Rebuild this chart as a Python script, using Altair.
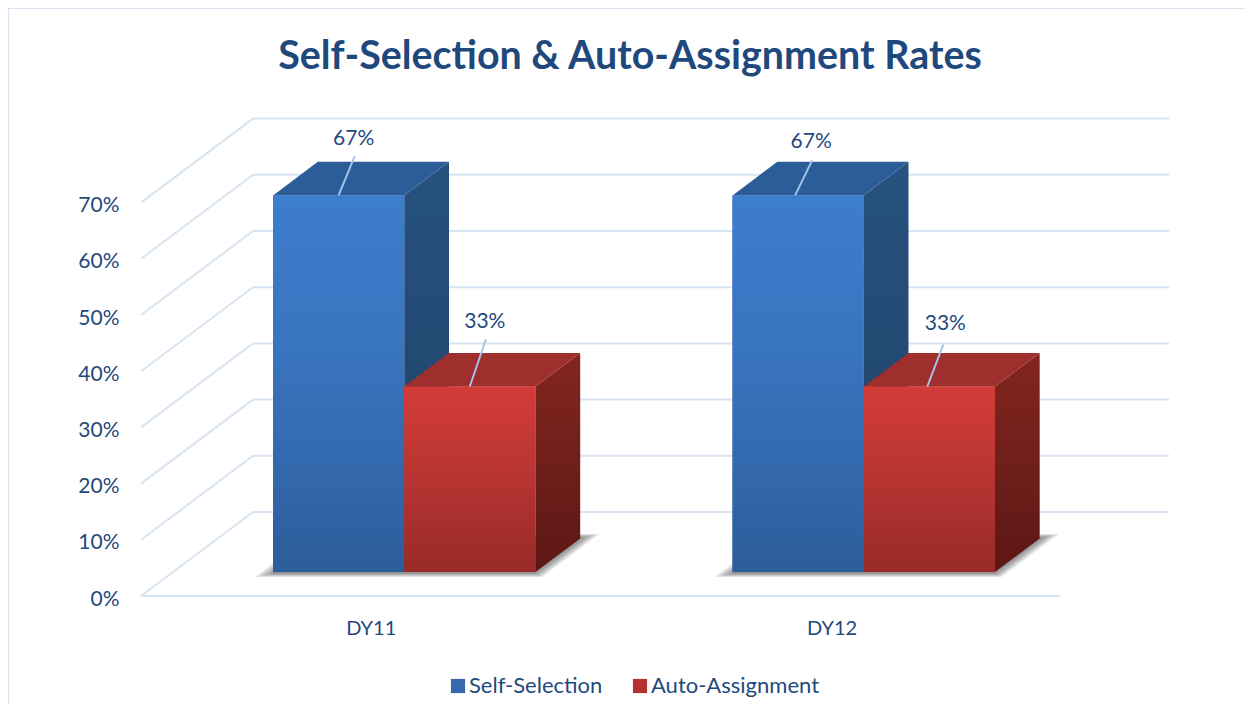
import altair as alt
import pandas as pd

# ---- values ----
categories = ["DY11", "DY12"]
series = ["Self-Selection", "Auto-Assignment"]
self_selection = [67, 67]
auto_assignment = [33, 33]
ticks = [0, 10, 20, 30, 40, 50, 60, 70]

# ---- oblique projection of the chart box, in axis units ----
UNIT_PX = 459.5      # pixels per category
PCT_PX = 5.62        # pixels per percentage point
DEPTH_X = 112 / UNIT_PX
DEPTH_Y = 84 / PCT_PX
Z0, Z1 = 0.286, 0.686
BAR_START = 0.2176
BAR_W = 0.2855
X_DOMAIN = [0, 1028 / UNIT_PX]
Y_DOMAIN = [0, 477 / PCT_PX]


def grad(*stops):
    return alt.LinearGradient(gradient="linear", x1=0, x2=0, y1=0, y2=1, stops=[
        alt.GradientStop(color=c, offset=o) for c, o in stops])


BLUE = grad(("#3d7dcd", 0), ("#3973bd", 0.45), ("#2c5d9b", 1))
RED = grad(("#d33c38", 0), ("#b73432", 0.5), ("#982a27", 1))
BLUE_SIDE = grad(("#27527f", 0), ("#1e4166", 1))
RED_SIDE = grad(("#83261f", 0), ("#5c1715", 1))
TOPS = {series[0]: "#2c5d99", series[1]: "#9f2f2c"}
FRONTS = {series[0]: BLUE, series[1]: RED}
SIDES = {series[0]: BLUE_SIDE, series[1]: RED_SIDE}

TEXT = "#1f497d"
GRID = "#d9e4f2"
LEADER = "#a3c3e8"
FONT = "Lato"

xs = alt.Scale(domain=X_DOMAIN, nice=False, zero=False)
ys = alt.Scale(domain=Y_DOMAIN, nice=False, zero=False)

X_AXIS = alt.Axis(values=[0.5, 1.503], title=None, domain=False, ticks=False, grid=False,
                  labelExpr="%s[floor(datum.value)]" % categories,
                  labelFont=FONT, labelFontSize=20, labelColor=TEXT, labelPadding=22)
Y_AXIS = alt.Axis(values=ticks, title=None, domain=False, ticks=False, grid=False,
                  labelExpr="datum.value + '%'", labelFont=FONT, labelFontSize=21,
                  labelColor=TEXT, labelPadding=22, labelOffset=3)


def X(f):
    return alt.X(f, type="quantitative", scale=xs, axis=X_AXIS)


def Y(f):
    return alt.Y(f, type="quantitative", scale=ys, axis=Y_AXIS)


# ---- tables ----
bars = []
values = {series[0]: self_selection, series[1]: auto_assignment}
for c_i, cat in enumerate(categories):
    for s_i, s in enumerate(series):
        left = c_i + BAR_START + s_i * BAR_W + Z0 * DEPTH_X
        bars.append(dict(cat=cat, series=s, value=values[s][c_i], left=left, c_i=c_i, s_i=s_i))
bars = pd.DataFrame(bars)
bars["right"] = bars["left"] + BAR_W
bars["top"] = bars["value"] + Z0 * DEPTH_Y
bars["base"] = Z0 * DEPTH_Y

# gridlines of the wall, side wall and floor
wall = pd.DataFrame({"v": ticks})
wall["x"] = DEPTH_X
wall["x2"] = 2 + DEPTH_X - 3 / UNIT_PX
wall["y"] = wall["v"] + DEPTH_Y
side = pd.DataFrame({"v": ticks})
side["x"] = 0.0
side["x2"] = DEPTH_X
side["y"] = side["v"]
side["y2"] = side["v"] + DEPTH_Y
floor = pd.DataFrame({"x": [0.0], "x2": [2.0], "y": [0.0]})

grid = [
    alt.Chart(wall).mark_rule(color=GRID, strokeWidth=2).encode(x=X("x"), x2="x2", y=Y("y")),
    alt.Chart(side).mark_rule(color=GRID, strokeWidth=2).encode(x=X("x"), x2="x2", y=Y("y"), y2="y2"),
    alt.Chart(floor).mark_rule(color=GRID, strokeWidth=2).encode(x=X("x"), x2="x2", y=Y("y")),
]

# soft shadow on the floor, several growing outlines stacked
shadow_rows = []
for c_i in range(len(categories)):
    for lvl in range(6):
        t = lvl / 5
        x0 = c_i + BAR_START - 0.0246 + 0.03 * t
        x1 = c_i + BAR_START + 2 * BAR_W + 0.029 - 0.026 * t
        for z in [0.226 + 0.044 * t, 0.738 - 0.04 * t]:
            shadow_rows.append(dict(g=f"{c_i}-{lvl}", x=x0 + z * DEPTH_X,
                                    x2=x1 + z * DEPTH_X, y=z * DEPTH_Y))
shadow = (alt.Chart(pd.DataFrame(shadow_rows))
          .mark_area(orient="horizontal", color="#222222", opacity=0.11)
          .encode(y=Y("y"), x=X("x"), x2="x2", detail="g:N"))

faces = []
for _, s in enumerate(series):
    b = bars[bars.series == s]
    side_rows, top_rows = [], []
    for _, r in b.iterrows():
        for z in (Z0, Z1):
            dz = z - Z0
            side_rows.append(dict(g=r["cat"], x=r["right"] + dz * DEPTH_X,
                                  y=r["value"] + z * DEPTH_Y, y2=z * DEPTH_Y))
            top_rows.append(dict(g=r["cat"], y=r["value"] + z * DEPTH_Y,
                                 x=r["left"] + dz * DEPTH_X, x2=r["right"] + dz * DEPTH_X))
    for g, sub in pd.DataFrame(side_rows).groupby("g"):
        faces.append(alt.Chart(sub).mark_area(color=SIDES[s]).encode(x=X("x"), y=Y("y"), y2="y2"))
    faces.append(alt.Chart(pd.DataFrame(top_rows)).mark_area(orient="horizontal", color=TOPS[s])
                 .encode(y=Y("y"), x=X("x"), x2="x2", detail="g:N"))
    # solid front carries the legend; the gradient lies on top of it
    faces.append(alt.Chart(b).mark_bar(cornerRadius=0).encode(
        x=X("left"), x2="right", y=Y("top"), y2="base",
        color=alt.Color("series:N", scale=alt.Scale(domain=series, range=["#3569ac", "#b3322f"]),
                        legend=alt.Legend(title=None, orient="none", direction="horizontal",
                                          legendX=306, legendY=556, symbolType="square", symbolSize=200,
                                          symbolStrokeWidth=0, labelFont=FONT, labelFontSize=22,
                                          labelColor=TEXT, columnPadding=26, labelOffset=0, labelLimit=300))))
    faces.append(alt.Chart(b).mark_bar(color=FRONTS[s]).encode(
        x=X("left"), x2="right", y=Y("top"), y2="base"))

# data labels with leader lines, offsets in pixels from the bar's top edge
anchor_dx = [0, 0, -3, -2]
leader_dx = [16, 16, 14, 14]
leader_dy = [39, 47, 35, 42]
label_dx = [15, 15, 13, 16]
label_dy = [56, 65, 53, 63]
lab = bars.sort_values(["c_i", "s_i"]).reset_index(drop=True)
lab["mid"] = lab["left"] + BAR_W / 2
lab["ax"] = lab["mid"] + pd.Series(anchor_dx) / UNIT_PX
lab["lx"] = lab["mid"] + pd.Series(leader_dx) / UNIT_PX
lab["ly"] = lab["top"] + pd.Series(leader_dy) / PCT_PX
lab["tx"] = lab["mid"] + pd.Series(label_dx) / UNIT_PX
lab["ty"] = lab["top"] + pd.Series(label_dy) / PCT_PX
lab["text"] = lab["value"].astype(str) + "%"

leaders = alt.Chart(lab).mark_rule(color=LEADER, strokeWidth=2).encode(
    x=X("ax"), x2="lx", y=Y("top"), y2="ly")
labels = alt.Chart(lab).mark_text(font=FONT, fontSize=21, color=TEXT, baseline="middle").encode(
    x=X("tx"), y=Y("ty"), text="text:N")

# outer chart border
border_l = alt.Chart(pd.DataFrame({"a": [0]})).mark_rule(color=GRID, strokeWidth=2).encode(
    x=alt.value(-133), y=alt.value(-111), y2=alt.value(586))
border_t = alt.Chart(pd.DataFrame({"a": [0]})).mark_rule(color=GRID, strokeWidth=2).encode(
    x=alt.value(-133), x2=alt.value(1104), y=alt.value(-111))

chart = alt.layer(*grid, shadow, *faces, leaders, labels, border_l, border_t).properties(
    width=1028,
    height=477,
    padding={"left": 133, "top": 111, "right": 76, "bottom": 117},
    autosize="none",
    title=alt.TitleParams("Self-Selection & Auto-Assignment Rates", anchor="middle", dx=-25,
                          font=FONT, fontSize=39.4, fontWeight="bold", color=TEXT, offset=-70),
).configure_view(stroke=None).resolve_scale(color="shared")

chart.save("out.html", embed_options={"renderer": "svg", "actions": False})
